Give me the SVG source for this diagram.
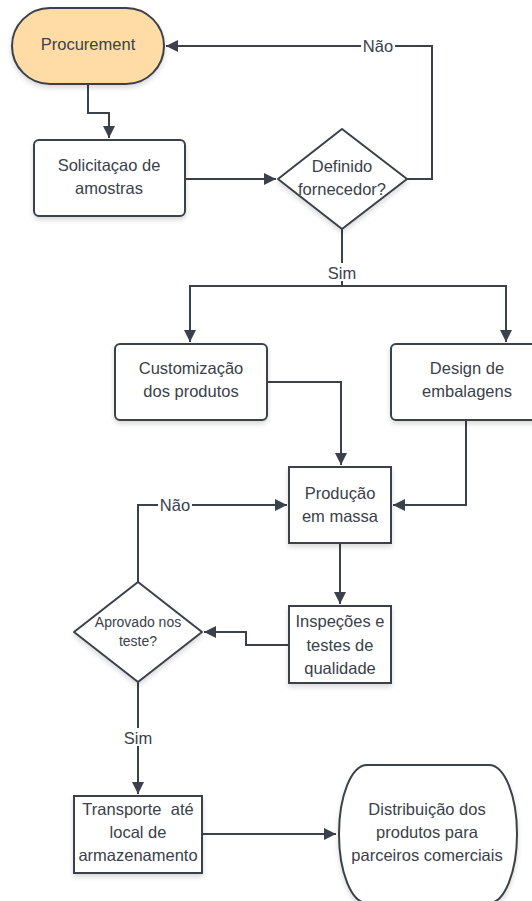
<svg xmlns="http://www.w3.org/2000/svg" width="532" height="901" viewBox="0 0 532 901">
<defs>
<marker id="arr" viewBox="0 0 10 10" refX="10" refY="5" markerWidth="12" markerHeight="12" markerUnits="userSpaceOnUse" orient="auto">
<path d="M0,0 L10,5 L0,10 Z" fill="#3a414a"/>
</marker>
<filter id="sh" x="-10%" y="-10%" width="130%" height="130%">
<feDropShadow dx="0" dy="3" stdDeviation="2.5" flood-color="#000" flood-opacity="0.15"/>
</filter>
</defs>
<style>
.n{fill:#fff;stroke:#3a414a;stroke-width:2;filter:url(#sh)}
.t{font-family:"Liberation Sans",Arial,sans-serif;font-size:16.5px;fill:#3a414a;text-anchor:middle}
.s{font-size:14px}
.c{fill:none;stroke:#3a414a;stroke-width:2}
.lb{fill:#fff}
</style>
<rect width="532" height="901" fill="#fff"/>
<g id="connectors">
<path class="c" d="M88,84 V113 H109 V138" marker-end="url(#arr)"/>
<path class="c" d="M185,179 H276" marker-end="url(#arr)"/>
<path class="c" d="M407,179 H432 V46 H166" marker-end="url(#arr)"/>
<path class="c" d="M342,229 V286"/>
<path class="c" d="M190,342 V286 H506 V342" marker-end="url(#arr)"/>
<path class="c" d="M190,286 V342" marker-end="url(#arr)"/>
<path class="c" d="M267,382 H341 V465" marker-end="url(#arr)"/>
<path class="c" d="M466,420 V505 H393" marker-end="url(#arr)"/>
<path class="c" d="M340,543 V604" marker-end="url(#arr)"/>
<path class="c" d="M289,645 H246 V632 H204" marker-end="url(#arr)"/>
<path class="c" d="M138,582 V505 H287" marker-end="url(#arr)"/>
<path class="c" d="M138,682 V794" marker-end="url(#arr)"/>
<path class="c" d="M202,834 H336" marker-end="url(#arr)"/>
<rect class="lb" x="361" y="37" width="34" height="18"/>
<text class="t" x="378" y="52">Não</text>
<rect class="lb" x="326" y="263" width="32" height="18"/>
<text class="t" x="342" y="279">Sim</text>
<rect class="lb" x="158" y="496" width="34" height="18"/>
<text class="t" x="175" y="511">Não</text>
<rect class="lb" x="122" y="728" width="32" height="18"/>
<text class="t" x="138" y="744">Sim</text>
</g>
<g id="procurement">
<rect class="n" x="12" y="8" width="152" height="76" rx="38" ry="38" style="fill:#ffdba6"/>
<text class="t" x="88" y="50">Procurement</text>
</g>
<g id="solicitacao">
<rect class="n" x="34" y="140" width="151" height="76" rx="5"/>
<text class="t" x="109" y="171">Solicitaçao de</text>
<text class="t" x="109" y="194">amostras</text>
</g>
<g id="definido">
<path class="n" d="M342,129 L407,179 L342,229 L278,179 Z" stroke-linejoin="round"/>
<text class="t" x="342" y="172">Definido</text>
<text class="t" x="342" y="195">fornecedor?</text>
</g>
<g id="customizacao">
<rect class="n" x="115" y="344" width="152" height="76" rx="5"/>
<text class="t" x="191" y="374">Customização</text>
<text class="t" x="191" y="397">dos produtos</text>
</g>
<g id="design">
<rect class="n" x="391" y="344" width="152" height="76" rx="5"/>
<text class="t" x="467" y="374">Design de</text>
<text class="t" x="467" y="397">embalagens</text>
</g>
<g id="producao">
<rect class="n" x="289" y="467" width="102" height="76"/>
<text class="t" x="340" y="499">Produção</text>
<text class="t" x="340" y="522">em massa</text>
</g>
<g id="inspecoes">
<rect class="n" x="289" y="606" width="102" height="77"/>
<text class="t" x="340" y="627">Inspeções e</text>
<text class="t" x="340" y="651">testes de</text>
<text class="t" x="340" y="674">qualidade</text>
</g>
<g id="aprovado">
<path class="n" d="M138,582 L202,632 L138,682 L74,632 Z" stroke-linejoin="round"/>
<text class="t s" x="138" y="627">Aprovado nos</text>
<text class="t s" x="138" y="646">teste?</text>
</g>
<g id="transporte">
<rect class="n" x="74" y="796" width="128" height="77"/>
<text class="t" x="138" y="815" xml:space="preserve">Transporte  até</text>
<text class="t" x="138" y="838">local de</text>
<text class="t" x="138" y="861">armazenamento</text>
</g>
<g id="distribuicao">
<rect class="n" x="339" y="765" width="178" height="138" rx="28" ry="69"/>
<text class="t" x="427" y="815">Distribuição dos</text>
<text class="t" x="427" y="838">produtos para</text>
<text class="t" x="427" y="861">parceiros comerciais</text>
</g>
</svg>
